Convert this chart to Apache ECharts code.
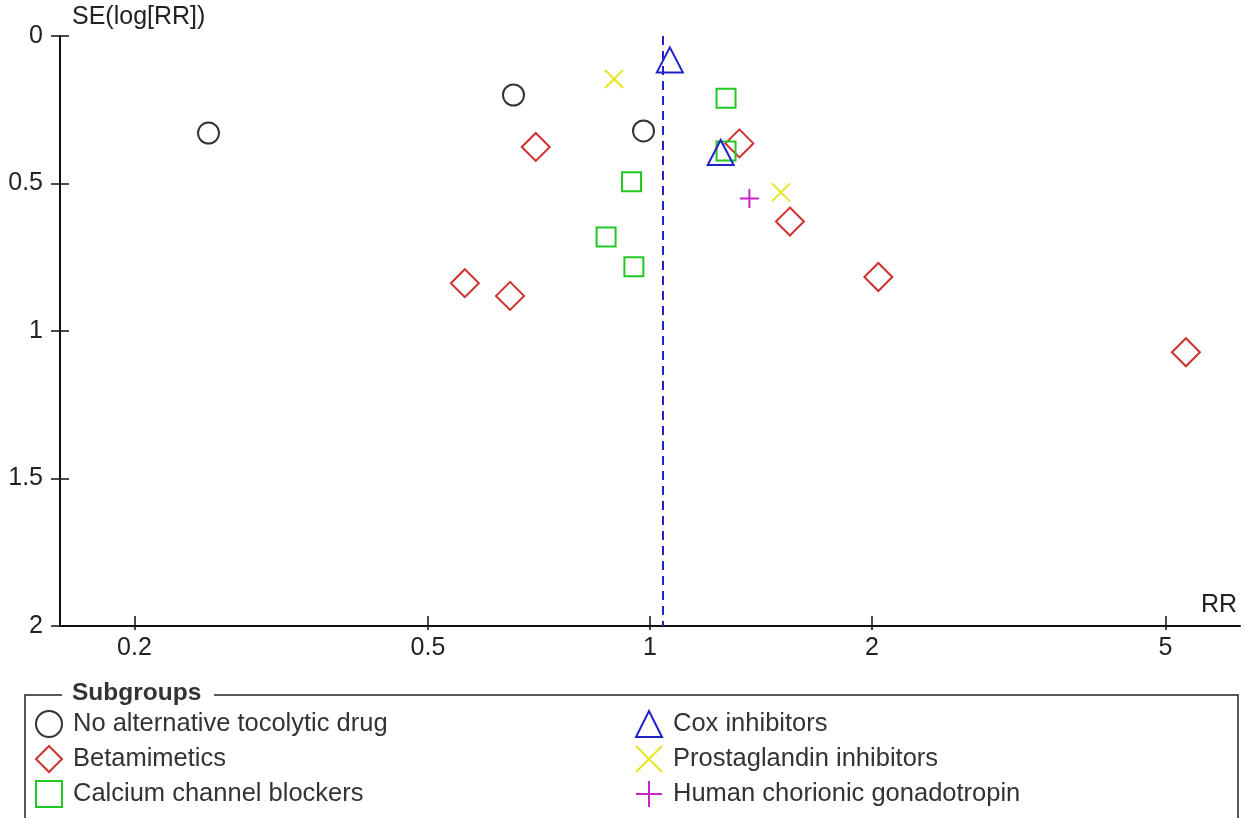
<!DOCTYPE html>
<html>
<head>
<meta charset="utf-8">
<script src="https://cdn.jsdelivr.net/npm/echarts@6/dist/echarts.min.js"></script>
<style>
html,body{margin:0;padding:0;background:#fff;}
#chart{width:1245px;height:818px;}
</style>
</head>
<body>
<div id="chart"></div>
<script>
// ---- data ----
const subgroupNames = ['No alternative tocolytic drug','Betamimetics','Calcium channel blockers','Cox inhibitors','Prostaglandin inhibitors','Human chorionic gonadotropin'];
const noAltRR = [0.252, 0.653, 0.980];
const noAltSE = [0.329, 0.200, 0.322];
const betaRR = [0.700, 1.322, 1.548, 2.04, 0.561, 0.646, 5.33];
const betaSE = [0.376, 0.364, 0.629, 0.817, 0.838, 0.881, 1.072];
const ccbRR = [1.268, 1.268, 0.944, 0.872, 0.951];
const ccbSE = [0.211, 0.390, 0.494, 0.681, 0.782];
const coxRR = [1.064, 1.247];
const coxSE = [0.081, 0.395];
const pgRR = [0.894, 1.505];
const pgSE = [0.146, 0.530];
const hcgRR = [1.364];
const hcgSE = [0.551];
const pooledRR = 1.043;
const xTicks = [0.2, 0.5, 1, 2, 5];
const yTicks = ['0', '0.5', '1', '1.5', '2'];

const FONT = 'Liberation Sans, Arial, sans-serif';
const FS = 25;
const pairs = (xs, ys) => xs.map((x, i) => [x, ys[i]]);

const styles = [
  {symbol:'circle', size:21, color:'#333333'},
  {symbol:'diamond', size:28, color:'#d03030'},
  {symbol:'rect', size:19, color:'#22c822'},
  {symbol:'triangle', size:[26,25], color:'#2222cc'},
  {symbol:'path://M0,0L20,20M20,0L0,20', size:18, color:'#e6e620'},
  {symbol:'path://M10,0L10,20M0,10L20,10', size:19, color:'#c822c8'}
];
const groupData = [pairs(noAltRR,noAltSE), pairs(betaRR,betaSE), pairs(ccbRR,ccbSE), pairs(coxRR,coxSE), pairs(pgRR,pgSE), pairs(hcgRR,hcgSE)];

const series = subgroupNames.map((name, i) => ({
  name: name,
  type: 'scatter',
  xAxisIndex: 0, yAxisIndex: 0,
  symbol: styles[i].symbol,
  symbolSize: styles[i].size,
  itemStyle: {color: 'rgba(0,0,0,0)', borderColor: styles[i].color, borderWidth: 2, opacity: 1},
  emphasis: {disabled: true},
  data: groupData[i],
  z: 3
}));
series.push({
  type: 'scatter', data: [], xAxisIndex: 0, yAxisIndex: 0, silent: true,
  markLine: {
    silent: true, symbol: ['none','none'],
    label: {show: false},
    lineStyle: {color: '#2222cc', type: [9,6], width: 2},
    data: [{xAxis: pooledRR}]
  }
});

const legendCommon = {
  orient: 'vertical', itemWidth: 26, itemHeight: 26, itemGap: 7, top: 710, padding: 0,
  textStyle: {fontFamily: FONT, fontSize: 25.5, lineHeight: 26, color: '#333', padding: [0,0,0,6]},
  selectedMode: false, inactiveColor: '#333'
};

const chart = echarts.init(document.getElementById('chart'), null, {renderer: 'canvas'});
chart.setOption({
  animation: false,
  backgroundColor: '#fff',
  grid: {left: 60, right: 5, top: 36, bottom: 192, containLabel: false},
  xAxis: [{
    type: 'log', logBase: 10, min: 0.1585, max: 6.31, position: 'bottom',
    name: 'RR', nameLocation: 'end', nameGap: -3,
    nameTextStyle: {fontFamily: FONT, fontSize: FS, color: '#222', align: 'right', verticalAlign: 'bottom', padding: [0,0,8,0]},
    axisLine: {show: true, onZero: false, lineStyle: {color: '#111', width: 2}},
    axisTick: {show: true, length: 4, lineStyle: {color: '#111', width: 1.5}, customValues: xTicks},
    axisLabel: {fontFamily: FONT, fontSize: FS, color: '#222', margin: 10, customValues: xTicks, formatter: v => String(v)},
    splitLine: {show: false}, minorTick: {show: false}, minorSplitLine: {show: false}
  }, {
    type: 'log', logBase: 10, min: 0.1585, max: 6.31, position: 'bottom', offset: 0,
    axisLine: {show: false, onZero: false},
    axisTick: {show: true, inside: true, length: 10, lineStyle: {color: '#111', width: 1.5}, customValues: xTicks},
    axisLabel: {show: false, customValues: xTicks},
    splitLine: {show: false}
  }],
  yAxis: [{
    type: 'value', inverse: true, min: 0, max: 2, interval: 0.5, position: 'left',
    name: 'SE(log[RR])', nameLocation: 'start', nameGap: 6,
    nameTextStyle: {fontFamily: FONT, fontSize: FS, color: '#222', align: 'left', verticalAlign: 'bottom', padding: [0,0,0,12]},
    axisLine: {show: true, onZero: false, lineStyle: {color: '#111', width: 2}},
    axisTick: {show: true, length: 9, lineStyle: {color: '#111', width: 1.5}},
    axisLabel: {fontFamily: FONT, fontSize: FS, color: '#222', margin: 17, formatter: v => yTicks[Math.round(v / 0.5)]},
    splitLine: {show: false}
  }, {
    type: 'value', inverse: true, min: 0, max: 2, interval: 0.5, position: 'left', offset: 0,
    axisLine: {show: false, onZero: false},
    axisTick: {show: true, inside: true, length: 9, lineStyle: {color: '#111', width: 1.5}},
    axisLabel: {show: false},
    splitLine: {show: false}
  }],
  legend: [
    Object.assign({}, legendCommon, {left: 35, data: subgroupNames.slice(0,3)}),
    Object.assign({}, legendCommon, {left: 635, data: subgroupNames.slice(3)})
  ],
  graphic: [
    {type: 'rect', shape: {x: 25, y: 695, width: 1213, height: 160}, style: {fill: 'none', stroke: '#222', lineWidth: 1.5}, silent: true},
    {type: 'rect', shape: {x: 62, y: 681, width: 152, height: 26}, style: {fill: '#fff'}, silent: true},
    {type: 'text', x: 72, y: 693, style: {text: 'Subgroups', font: 'bold 24.5px ' + FONT, fill: '#333', verticalAlign: 'middle'}, silent: true}
  ],
  series: series
});
</script>
</body>
</html>
